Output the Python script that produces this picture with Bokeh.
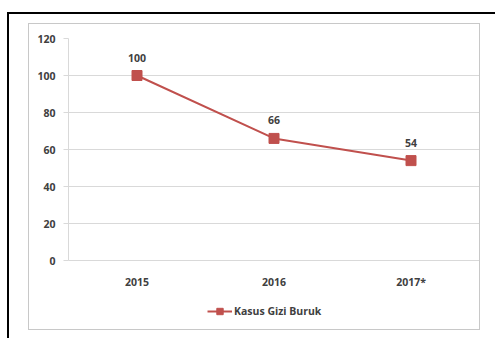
from bokeh.plotting import figure
from bokeh.layouts import column
from bokeh.models import ColumnDataSource, Legend, LegendItem, FixedTicker
from bokeh.core.properties import value
from bokeh.embed import file_html
from bokeh.resources import INLINE

years = ["2015", "2016", "2017*"]
cases = [100, 66, 54]
labels = ["100", "66", "54"]
y_ticks = [0, 20, 40, 60, 80, 100, 120]
series_name = "Kasus Gizi Buruk"

FONT = "Open Sans"
FS = "10.5px"
RED = "#C0504D"
GRID = "#D9D9D9"
TXT = "#404040"

src = ColumnDataSource(dict(x=years, y=cases, lab=labels))

# frame extends below y=0 to host the legend; x axis pinned at y=0
p = figure(width=450, height=305, x_range=years, y_range=(-33.5, 120),
           output_backend="svg", toolbar_location=None,
           min_border_left=39, min_border_right=0, min_border_top=14, min_border_bottom=7)
p.outline_line_color = None
p.background_fill_color = "white"
p.border_fill_color = "white"

p.xgrid.grid_line_color = None
p.ygrid.grid_line_color = GRID
p.ygrid.grid_line_width = 1
p.yaxis.ticker = FixedTicker(ticks=y_ticks)
p.yaxis.bounds = (0, 120)
p.yaxis.axis_line_color = GRID
p.yaxis.major_tick_line_color = GRID
p.yaxis.major_tick_out = 5
p.yaxis.major_tick_in = 0
p.yaxis.minor_tick_line_color = None
p.yaxis.major_label_text_font = FONT
p.yaxis.major_label_text_font_size = FS
p.yaxis.major_label_text_font_style = "bold"
p.yaxis.major_label_text_color = TXT
p.yaxis.major_label_standoff = 8

p.xaxis.fixed_location = 0
p.xaxis.axis_line_color = GRID
p.xaxis.major_tick_line_color = None
p.xaxis.major_label_text_font = FONT
p.xaxis.major_label_text_font_size = FS
p.xaxis.major_label_text_font_style = "bold"
p.xaxis.major_label_text_color = TXT
p.xaxis.major_label_standoff = 8

line = p.line("x", "y", source=src, line_color=RED, line_width=2)
pts = p.scatter("x", "y", source=src, marker="square", size=10,
                fill_color=RED, line_color=RED)
p.text("x", "y", text="lab", source=src, text_font=value(FONT),
       text_font_size=FS, text_font_style="bold", text_color=TXT,
       text_align="center", text_baseline="bottom", y_offset=-14)

legend = Legend(items=[LegendItem(label=series_name, renderers=[line, pts])],
                location=(139, 3), orientation="horizontal",
                border_line_color=None, background_fill_alpha=0,
                label_text_font=FONT, label_text_font_size=FS,
                label_text_font_style="bold", label_text_color=TXT,
                glyph_width=25, glyph_height=16, label_height=16,
                label_standoff=2, padding=0, margin=0)
p.add_layout(legend, "center")

inner = column(p, margin=(9, 30, 30, 19),
               styles={"border": "1px solid #C8C8C8"})
outer = column(inner, margin=(12, 0, 0, 7),
               styles={"border-top": "2px solid black", "border-left": "2px solid black"})

open("out.html", "w").write(file_html(outer, INLINE))
